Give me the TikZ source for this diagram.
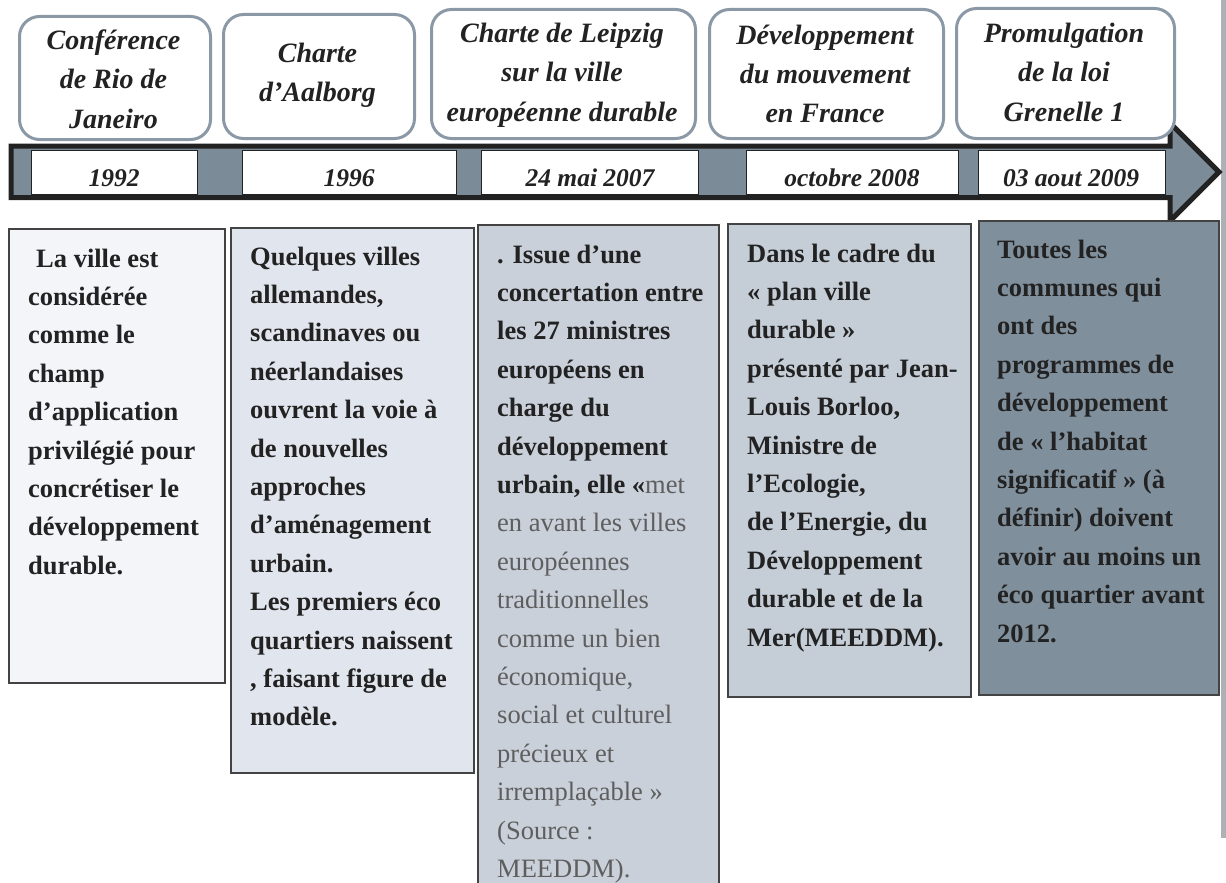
\documentclass[tikz,border=0pt]{standalone}
\usepackage{fontspec}
\setmainfont{Liberation Serif}

\definecolor{hdrline}{HTML}{8A99A5}
\definecolor{barfill}{HTML}{7B8B98}
\definecolor{inkdark}{HTML}{222222}
\definecolor{quotegray}{HTML}{5E5E5E}
\definecolor{fillA}{HTML}{F3F5F9}
\definecolor{fillB}{HTML}{E1E5ED}
\definecolor{fillC}{HTML}{C9D0DA}
\definecolor{fillD}{HTML}{C5CDD7}
\definecolor{fillE}{HTML}{808F9C}
\definecolor{edgestrip}{HTML}{ADB1B6}

\newcommand\hdrlines[1]{\parbox[t]{240pt}{\centering #1}}
\newcommand\bodylines[1]{\parbox[t]{240pt}{\raggedright #1}}

\tikzset{
  hdrbox/.style={draw=hdrline, line width=3pt, rounded corners=20pt, fill=white,
                 inner sep=0pt, anchor=north west},
  datebox/.style={draw=inkdark, line width=1.2pt, fill=white, inner sep=0pt,
                  anchor=north west, minimum height=44pt},
  bodybox/.style={draw=inkdark!85, line width=1.5pt, inner sep=0pt, anchor=north west},
  hdrtext/.style={anchor=base, inner sep=0pt, text=inkdark,
                  font=\fontsize{28}{39}\selectfont\bfseries\itshape},
  datetext/.style={anchor=base, inner sep=0pt, text=inkdark,
                   font=\fontsize{25.5}{30}\selectfont\bfseries\itshape},
  bodytext/.style={anchor=base west, inner sep=0pt, text=inkdark,
                   font=\fontsize{26.5}{38.4}\selectfont\bfseries},
  timebar/.style={draw=inkdark, fill=barfill, line width=5pt, line join=miter},
}

\begin{document}
\begin{tikzpicture}[x=1pt,y=-1pt]
\useasboundingbox (0,0) rectangle (1226,883);
\clip (0,0) rectangle (1226,883);
\fill[white] (0,0) rectangle (1226,883);

% grey strip along the right margin
\fill[edgestrip] (1221,0) rectangle (1226,838);

% the time axis: a long arrow
\draw[timebar] (11,146) -- (1170,146) -- (1170,123) -- (1219,172)
  -- (1170,221) -- (1170,197.5) -- (11,197.5) -- cycle;

% date cells on the axis
\node[datebox, minimum width=166pt] (d1) at (31,150) {};
\node[datebox, minimum width=214pt] (d2) at (242,150) {};
\node[datebox, minimum width=217pt] (d3) at (481,150) {};
\node[datebox, minimum width=212pt] (d4) at (746,150) {};
\node[datebox, minimum width=187pt] (d5) at (978,150) {};

\node[datetext] (t1) at (114,186) {1992};
\node[datetext] (t2) at (349,186) {1996};
\node[datetext] (t3) at (590,186) {24 mai 2007};
\node[datetext] (t4) at (852,186) {octobre 2008};
\node[datetext] (t5) at (1071,186) {03 aout 2009};

% event titles
\node[hdrbox, minimum width=191pt, minimum height=123pt] (h1) at (18,15) {};
\node[hdrbox, minimum width=191pt, minimum height=124pt] (h2) at (222,13) {};
\node[hdrbox, minimum width=264pt, minimum height=129pt] (h3) at (430,8) {};
\node[hdrbox, minimum width=234pt, minimum height=129pt] (h4) at (708,8) {};
\node[hdrbox, minimum width=218pt, minimum height=130pt] (h5) at (955,7) {};

\node[hdrtext] (ht1) at (113.5,50) {\hdrlines{Conférence\\ de Rio de\\ Janeiro}};
\node[hdrtext] (ht2) at (317.5,63) {\hdrlines{Charte\\ d’Aalborg}};
\node[hdrtext] (ht3) at (562,43) {\hdrlines{Charte de Leipzig\\ sur la ville\\ européenne durable}};
\node[hdrtext] (ht4) at (825,45) {\hdrlines{Développement\\ du mouvement\\ en France}};
\node[hdrtext] (ht5) at (1064,43) {\hdrlines{Promulgation\\ de la loi\\ Grenelle 1}};

% description panels
\node[bodybox, fill=fillA, minimum width=216pt, minimum height=454pt] (b1) at (8,228) {};
\node[bodybox, fill=fillB, minimum width=243pt, minimum height=545pt] (b2) at (230,227) {};
\node[bodybox, fill=fillC, minimum width=241pt, minimum height=680pt] (b3) at (477,224) {};
\node[bodybox, fill=fillD, minimum width=243pt, minimum height=473pt] (b4) at (727,223) {};
\node[bodybox, fill=fillE, minimum width=240pt, minimum height=474pt] (b5) at (978,220) {};

\node[bodytext] (p1) at (28,267) {\bodylines{\hspace*{8pt}La ville est\\ considérée\\ comme le\\
  champ\\ d’application\\ privilégié pour\\ concrétiser le\\ développement\\ durable.}};

\node[bodytext] (p2) at (250,265) {\bodylines{Quelques villes\\ allemandes,\\ scandinaves ou\\
  néerlandaises\\ ouvrent la voie à\\ de nouvelles\\ approches\\ d’aménagement\\ urbain.\\
  Les premiers éco\\ quartiers naissent\\ , faisant figure de\\ modèle.}};

\node[bodytext] (p3) at (497,263) {\bodylines{. Issue d’une\\ concertation entre\\
  les 27 ministres\\ européens en\\ charge du\\ développement\\
  urbain, elle «{\mdseries\color{quotegray}met\\ en avant les villes\\ européennes\\
  traditionnelles\\ comme un bien\\ économique,\\ social et culturel\\ précieux et\\
  irremplaçable »\\ (Source :\\ MEEDDM).}}};

\node[bodytext] (p4) at (747,262) {\bodylines{Dans le cadre du\\ « plan ville\\ durable »\\
  présenté par Jean-\\ Louis Borloo,\\ Ministre de\\ l’Ecologie,\\ de l’Energie, du\\
  Développement\\ durable et de la\\ Mer(MEEDDM).}};

\node[bodytext] (p5) at (997,258) {\bodylines{Toutes les\\ communes qui\\ ont des\\
  programmes de\\ développement\\ de « l’habitat\\ significatif » (à\\ définir) doivent\\
  avoir au moins un\\ éco quartier avant\\ 2012.}};
\end{tikzpicture}
\end{document}
